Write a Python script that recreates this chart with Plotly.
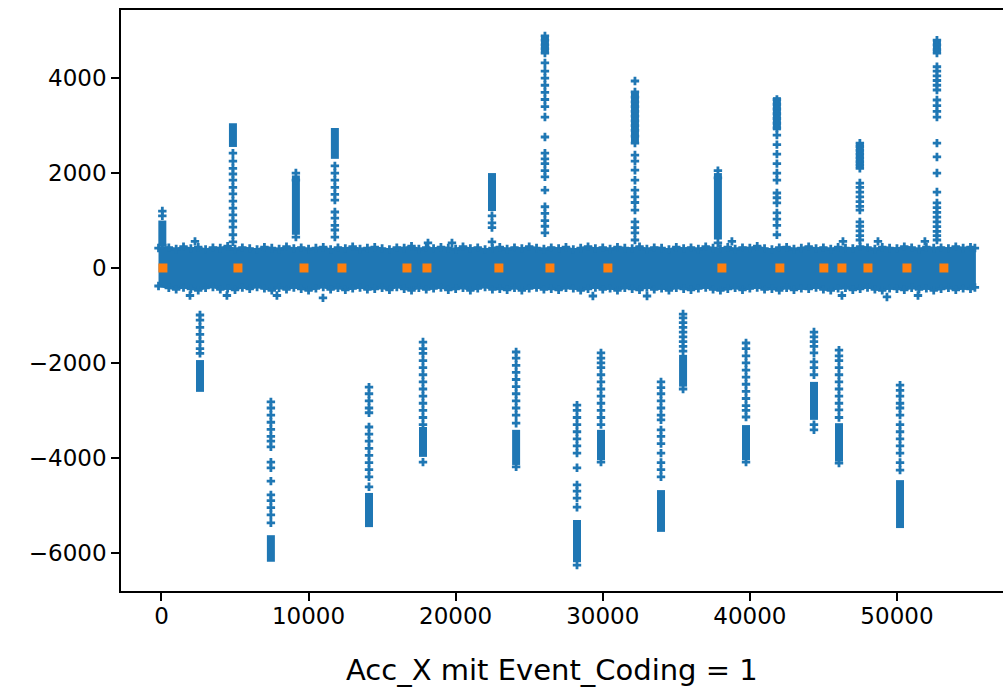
import plotly.graph_objects as go

BLUE = "#1f77b4"
ORANGE = "#ff7f0e"

# ---- dense noise band (envelope) ----
band_x = [-200, 500, 1000, 1500, 2000, 2500, 3000, 3500, 4000, 4500,
          5000, 5500, 6000, 6500, 7000, 7500, 8000, 8500, 9000, 9500,
          10000, 10500, 11000, 11500, 12000, 12500, 13000, 13500, 14000, 14500,
          15000, 15500, 16000, 16500, 17000, 17500, 18000, 18500, 19000, 19500,
          20000, 20500, 21000, 21500, 22000, 22500, 23000, 23500, 24000, 24500,
          25000, 25500, 26000, 26500, 27000, 27500, 28000, 28500, 29000, 29500,
          30000, 30500, 31000, 31500, 32000, 32500, 33000, 33500, 34000, 34500,
          35000, 35500, 36000, 36500, 37000, 37500, 38000, 38500, 39000, 39500,
          40000, 40500, 41000, 41500, 42000, 42500, 43000, 43500, 44000, 44500,
          45000, 45500, 46000, 46500, 47000, 47500, 48000, 48500, 49000, 49500,
          50000, 50500, 51000, 51500, 52000, 52500, 53000, 53500, 54000, 54500,
          55000, 55300]
band_upper = [420, 430, 400, 450, 410, 440, 390, 430, 420, 460,
              400, 430, 410, 390, 440, 420, 400, 450, 410, 430,
              400, 420, 440, 390, 430, 410, 450, 400, 420, 440,
              410, 390, 430, 420, 460, 400, 430, 410, 440, 420,
              400, 450, 410, 430, 390, 420, 440, 400, 430, 410,
              450, 420, 400, 430, 410, 440, 390, 420, 450, 410,
              430, 400, 440, 420, 410, 450, 400, 430, 420, 390,
              440, 410, 430, 400, 450, 420, 410, 440, 400, 430,
              420, 460, 410, 390, 430, 440, 400, 420, 450, 410,
              430, 400, 440, 420, 410, 450, 430, 400, 440, 420,
              410, 450, 430, 400, 440, 420, 430, 410, 450, 420,
              440, 420]
band_lower = [-380, -420, -450, -410, -440, -470, -420, -400, -450, -430,
              -460, -410, -440, -400, -430, -470, -420, -450, -410, -440,
              -470, -430, -400, -450, -420, -460, -430, -410, -450, -440,
              -420, -460, -400, -440, -470, -420, -450, -430, -410, -460,
              -440, -420, -470, -430, -400, -450, -440, -460, -420, -470,
              -430, -410, -450, -440, -460, -420, -430, -470, -440, -410,
              -450, -430, -470, -420, -440, -460, -410, -450, -430, -470,
              -420, -440, -460, -430, -410, -450, -470, -440, -420, -460,
              -430, -410, -450, -440, -470, -420, -460, -430, -440, -410,
              -450, -470, -430, -420, -460, -440, -410, -450, -470, -430,
              -440, -460, -420, -450, -430, -470, -440, -420, -460, -430,
              -440, -410]

# scattered edge outliers of the band
out_x = [2280, 18120, 19750, 38780, 46330, 48710, 51900,
         1940, 4450, 7850, 10980, 29330, 33010, 46260, 49320, 51430]
out_y = [560, 530, 530, 560, 560, 560, 560,
         -580, -580, -580, -630, -590, -590, -580, -610, -580]

# ---- spikes: x position, sparse sample values, dense run [top, bottom] ----
spike_x = [60, 4860, 9140, 11790, 22470, 26070, 32190, 37830, 41840, 47480, 52720,
           2620, 7440, 14110, 17780, 24110, 28250, 29880, 33960, 35460, 39740,
           44360, 46060, 50210]
spike_points = [
    [1200, 1100, 480],
    [2420, 2250, 2100, 1980, 1850, 1700, 1560, 1410, 1260, 1120, 990, 860, 700, 550],
    [2000, 1850, 650],
    [2150, 2000, 1850, 1700, 1550, 1430, 1180, 1050, 900, 800, 650],
    [1100, 950, 850, 550],
    [4890, 4800, 4700, 4620, 4530, 4320, 4150, 4000, 3850, 3700, 3550, 3400,
     3180, 2760, 2420, 2300, 2200, 2050, 1920, 1640, 1290, 1150, 1000, 880, 740],
    [3940, 3710, 3600, 3500, 3400, 3300, 3200, 3100, 3000, 2900, 2780, 2630,
     2380, 2250, 2060, 1850, 1640, 1500, 1380, 1220, 970, 850, 740, 590],
    [2050, 1900, 530],
    [3550, 3450, 3350, 3250, 3150, 3050, 2950, 2800, 2600, 2400, 2200, 2000,
     1850, 1580, 1480, 1370, 1160, 1030, 900, 700],
    [2630, 2560, 2480, 2400, 2320, 2240, 2170, 2100, 1790, 1700, 1600, 1500,
     1400, 1300, 1220, 970, 880, 780, 680, 590],
    [4800, 4700, 4600, 4530, 4240, 4150, 4050, 3950, 3850, 3750, 3540, 3420,
     3300, 3180, 2630, 2340, 2000, 1600, 1370, 1270, 1170, 1070, 970, 870,
     770, 680, 590],
    [-990, -1100, -1250, -1400, -1550, -1700, -1800],
    [-2820, -2950, -3100, -3250, -3400, -3550, -3650, -3770, -4090, -4210,
     -4490, -4780, -4900, -5050, -5200, -5370],
    [-2510, -2650, -2800, -2950, -3050, -3350, -3500, -3650, -3800, -3950,
     -4100, -4250, -4400, -4610],
    [-1560, -1700, -1800, -1950, -2100, -2250, -2400, -2550, -2700, -2850,
     -3000, -3150, -3300, -4090],
    [-1770, -1900, -2050, -2200, -2350, -2500, -2650, -2800, -2950, -3100,
     -3270, -4190],
    [-2890, -3000, -3150, -3300, -3450, -3600, -3750, -3900, -4210, -4570,
     -4700, -4850, -5040, -6260],
    [-1790, -1900, -2000, -2100, -2250, -2400, -2550, -2700, -2850, -3000,
     -3150, -3300, -4090],
    [-2400, -2520, -2650, -2800, -2950, -3100, -3200, -3410, -3550, -3700,
     -3900, -4100, -4250, -4400],
    [-970, -1050, -1150, -1250, -1350, -1450, -1550, -1650, -1750, -2550],
    [-1580, -1700, -1850, -2000, -2150, -2300, -2450, -2600, -2750, -2900,
     -3000, -3140, -4090],
    [-1350, -1450, -1550, -1650, -1790, -1980, -2100, -2250, -3300, -3410],
    [-1730, -1850, -1950, -2100, -2250, -2400, -2550, -2700, -2850, -2990,
     -3150, -4110],
    [-2470, -2580, -2700, -2850, -2950, -3100, -3300, -3450, -3600, -3750,
     -3900, -4100, -4260],
]
spike_dense = [
    [1000, 450], [3050, 2550], [1950, 700], [2950, 2300], [2000, 1200],
    [4890, 4530], [3710, 2630], [2000, 600], [3600, 2900], [2630, 2100], [4800, 4530],
    [-1940, -2610], [-5630, -6190], [-4740, -5460], [-3350, -3980], [-3410, -4150],
    [-5310, -6200], [-3410, -4050], [-4680, -5560], [-1830, -2500], [-3310, -4050],
    [-2400, -3200], [-3270, -4080], [-4470, -5480],
]

# ---- events (Event_Coding = 1) ----
event_x = [100, 5200, 9690, 12270, 16690, 18050, 22940, 26410, 30350,
           38100, 42040, 45030, 46260, 48030, 50680, 53190]
event_y = [0] * len(event_x)

fig = go.Figure()

# band polygon (edge vertices drawn as markers for a ragged look)
fig.add_trace(go.Scatter(
    x=band_x + band_x[::-1], y=band_upper + band_lower[::-1],
    fill="toself", fillcolor=BLUE, mode="lines+markers",
    line=dict(color=BLUE, width=2),
    marker=dict(symbol="cross", size=7, color=BLUE, line=dict(width=0)),
    hoverinfo="skip", showlegend=False))

# dense runs in spikes
seg_x, seg_y = [], []
for sx, (top, bot) in zip(spike_x, spike_dense):
    seg_x += [sx, sx, None]
    seg_y += [top, bot, None]
fig.add_trace(go.Scatter(x=seg_x, y=seg_y, mode="lines",
                         line=dict(color=BLUE, width=8), showlegend=False))

# sparse spike samples and band outliers
px_, py_ = [], []
for sx, pts in zip(spike_x, spike_points):
    px_ += [sx] * len(pts)
    py_ += pts
px_ += out_x
py_ += out_y
fig.add_trace(go.Scatter(x=px_, y=py_, mode="markers",
                         marker=dict(symbol="cross", size=7, color=BLUE,
                                     line=dict(width=0)),
                         showlegend=False))

# events
fig.add_trace(go.Scatter(x=event_x, y=event_y, mode="markers",
                         marker=dict(symbol="square", size=9, color=ORANGE,
                                     line=dict(width=0)),
                         showlegend=False))

xt = [0, 10000, 20000, 30000, 40000, 50000]
yt = [-6000, -4000, -2000, 0, 2000, 4000]
yt_text = [("\u2212" + str(-v)) if v < 0 else str(v) for v in yt]

fig.update_layout(
    width=1003, height=690,
    margin=dict(l=121, r=0, t=10, b=99),
    paper_bgcolor="white", plot_bgcolor="white",
    font=dict(family="DejaVu Sans", size=23, color="black"),
    xaxis=dict(range=[-2750, 57210], tickvals=xt, ticktext=[str(v) for v in xt],
               showgrid=False, zeroline=False, showline=True, linecolor="black",
               linewidth=1.5, mirror=True, ticks="outside", ticklen=8,
               tickwidth=1.5, tickcolor="black", ticklabelstandoff=-4),
    yaxis=dict(range=[-6806, 5436], tickvals=yt, ticktext=yt_text,
               showgrid=False, zeroline=False, showline=True, linecolor="black",
               linewidth=1.5, mirror=False, ticks="outside", ticklen=8,
               tickwidth=1.5, tickcolor="black"),
    annotations=[dict(text="Acc_X mit Event_Coding = 1", xref="paper", yref="paper",
                      x=0.4887, y=-0.1360, xanchor="center", yanchor="middle",
                      showarrow=False, font=dict(family="DejaVu Sans", size=29,
                                                 color="black"))],
)

fig.write_html("out.html")
